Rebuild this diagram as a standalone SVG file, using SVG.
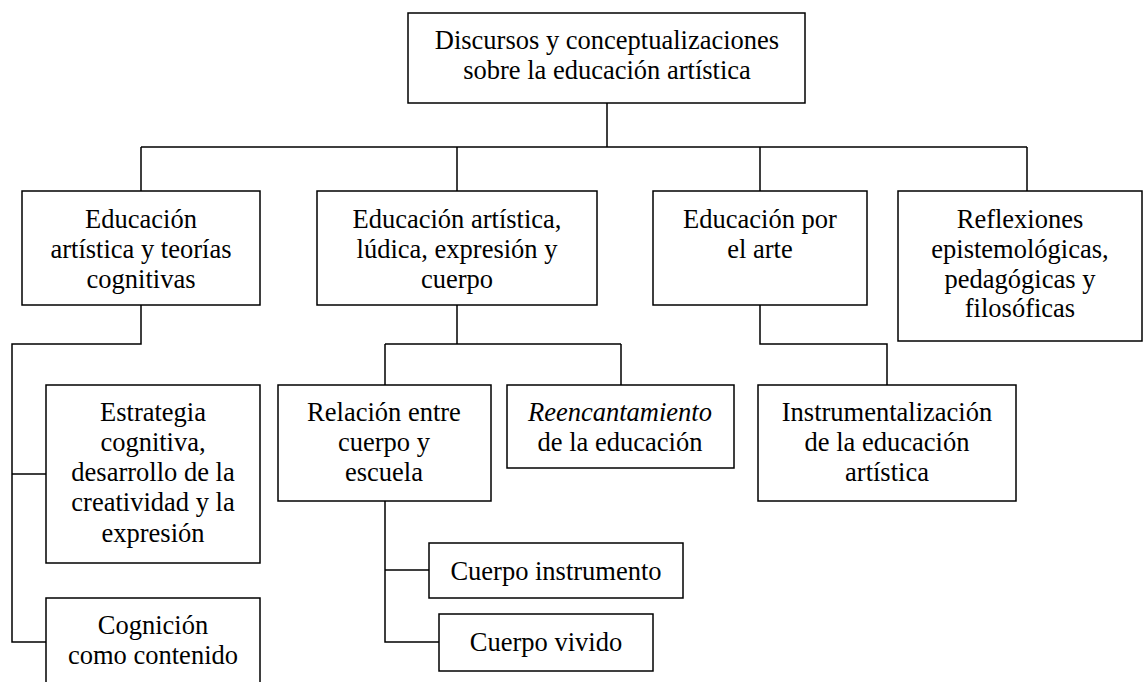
<svg xmlns="http://www.w3.org/2000/svg" width="1143" height="682" viewBox="0 0 1143 682">
<style>
rect{fill:#fff;stroke:#000;stroke-width:1.5}
.c path{fill:none;stroke:#000;stroke-width:1.5}
text{font-family:"Liberation Serif",serif;font-size:26.5px;fill:#000;text-anchor:middle}
.i{font-style:italic}
</style>
<rect x="0" y="0" width="1143" height="682" style="stroke:none"/>
<g class="c" id="connectors">
<path d="M607 103V147M141 147H1027M141 147V191M457 147V191M760 147V191M1027 147V191"/>
<path d="M141 305V344H12V642H46M12 474H46"/>
<path d="M457 305V344M385 344H621M385 344V385M621 344V385"/>
<path d="M760 305V344H887V385"/>
<path d="M385 501V642H439M385 570H429"/>
</g>
<g id="root"><rect x="408" y="13" width="397" height="90"/>
<text x="607" y="49">Discursos y conceptualizaciones</text><text x="607" y="79">sobre la educación artística</text></g>
<g id="n1"><rect x="22" y="191" width="238" height="114"/>
<text x="141" y="228">Educación</text><text x="141" y="258">artística y teorías</text><text x="141" y="288">cognitivas</text></g>
<g id="n2"><rect x="317" y="191" width="280" height="114"/>
<text x="457" y="228">Educación artística,</text><text x="457" y="258">lúdica, expresión y</text><text x="457" y="288">cuerpo</text></g>
<g id="n3"><rect x="653" y="191" width="214" height="114"/>
<text x="760" y="228">Educación por</text><text x="760" y="258">el arte</text></g>
<g id="n4"><rect x="898" y="191" width="244" height="150"/>
<text x="1020" y="228">Reflexiones</text><text x="1020" y="258">epistemológicas,</text><text x="1020" y="288">pedagógicas y</text><text x="1020" y="317">filosóficas</text></g>
<g id="n5"><rect x="46" y="385" width="214" height="178"/>
<text x="153" y="421">Estrategia</text><text x="153" y="451">cognitiva,</text><text x="153" y="481">desarrollo de la</text><text x="153" y="511">creatividad y la</text><text x="153" y="542">expresión</text></g>
<g id="n6"><rect x="46" y="598" width="214" height="100"/>
<text x="153" y="634">Cognición</text><text x="153" y="664">como contenido</text></g>
<g id="n7"><rect x="278" y="385" width="213" height="116"/>
<text x="384" y="421">Relación entre</text><text x="384" y="451">cuerpo y</text><text x="384" y="481">escuela</text></g>
<g id="n8"><rect x="507" y="385" width="227" height="83"/>
<text x="620" y="421" class="i">Reencantamiento</text><text x="620" y="451">de la educación</text></g>
<g id="n9"><rect x="758" y="385" width="258" height="116"/>
<text x="887" y="421">Instrumentalización</text><text x="887" y="451">de la educación</text><text x="887" y="481">artística</text></g>
<g id="n10"><rect x="429" y="543" width="254" height="55"/>
<text x="556" y="580">Cuerpo instrumento</text></g>
<g id="n11"><rect x="439" y="614" width="214" height="57"/>
<text x="546" y="651">Cuerpo vivido</text></g>
</svg>
